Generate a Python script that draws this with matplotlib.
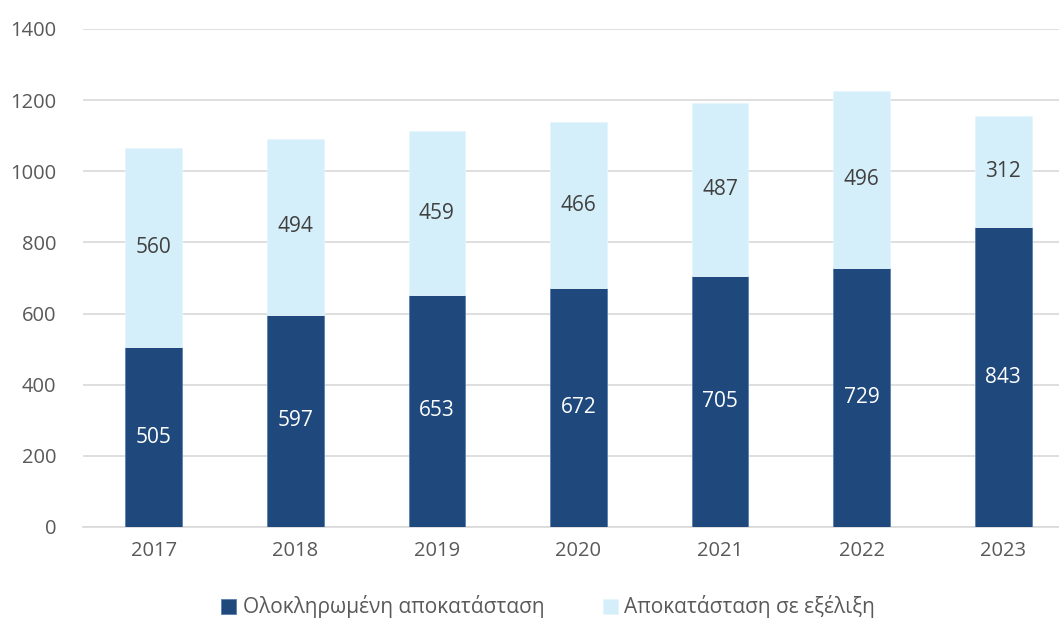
import matplotlib.pyplot as plt
import numpy as np

years = ["2017", "2018", "2019", "2020", "2021", "2022", "2023"]
completed = [505, 597, 653, 672, 705, 729, 843]
in_progress = [560, 494, 459, 466, 487, 496, 312]
labels = ["Ολοκληρωμένη αποκατάσταση", "Αποκατάσταση σε εξέλιξη"]

dark = "#1F497D"
light = "#D5EFFA"
grey = "#595959"

plt.rcParams.update({
    "font.family": ["Open Sans", "DejaVu Sans"],
    "font.size": 14,
})

fig = plt.figure(figsize=(10.59, 6.22), dpi=100)
ax = fig.add_axes([83 / 1059, 1 - 527 / 622, 991 / 1059, (527 - 29) / 622])

x = np.arange(len(years))
w = 0.40
b1 = ax.bar(x, completed, w, color=dark, edgecolor="#5A7FAF", linewidth=0.6,
            label=labels[0], zorder=3)
b2 = ax.bar(x, in_progress, w, bottom=completed, color=light, edgecolor="#E6F5FC",
            linewidth=0.6, label=labels[1], zorder=3)

for xi, c, p in zip(x, completed, in_progress):
    ax.text(xi, c / 2, str(c), ha="center", va="center", color="white", fontsize=15, zorder=4)
    ax.text(xi, c + p / 2, str(p), ha="center", va="center", color="#404040", fontsize=15, zorder=4)

ax.set_xlim(-0.5, len(years) - 0.5)
ax.set_ylim(0, 1400)
ax.set_yticks(range(0, 1401, 200))
ax.set_xticks(x)
ax.set_xticklabels(years)
ax.yaxis.grid(True, color="#D9D9D9", linewidth=1.2, zorder=0)
ax.set_axisbelow(True)
for s in ["top", "right", "left"]:
    ax.spines[s].set_visible(False)
ax.spines["bottom"].set_color("#D9D9D9")
ax.spines["bottom"].set_linewidth(1.2)
ax.tick_params(axis="both", length=0, colors=grey, labelsize=14.5)
ax.tick_params(axis="y", pad=19)
ax.tick_params(axis="x", pad=10)

fig.legend(handles=[b1, b2], labels=labels, loc="center", bbox_to_anchor=(548 / 1059, 1 - 607 / 622),
           ncol=2, frameon=False, fontsize=15, handlelength=0.75, handleheight=0.75,
           handletextpad=0.3, columnspacing=2.8, labelcolor=grey)

fig.savefig("out.png", dpi=100)
